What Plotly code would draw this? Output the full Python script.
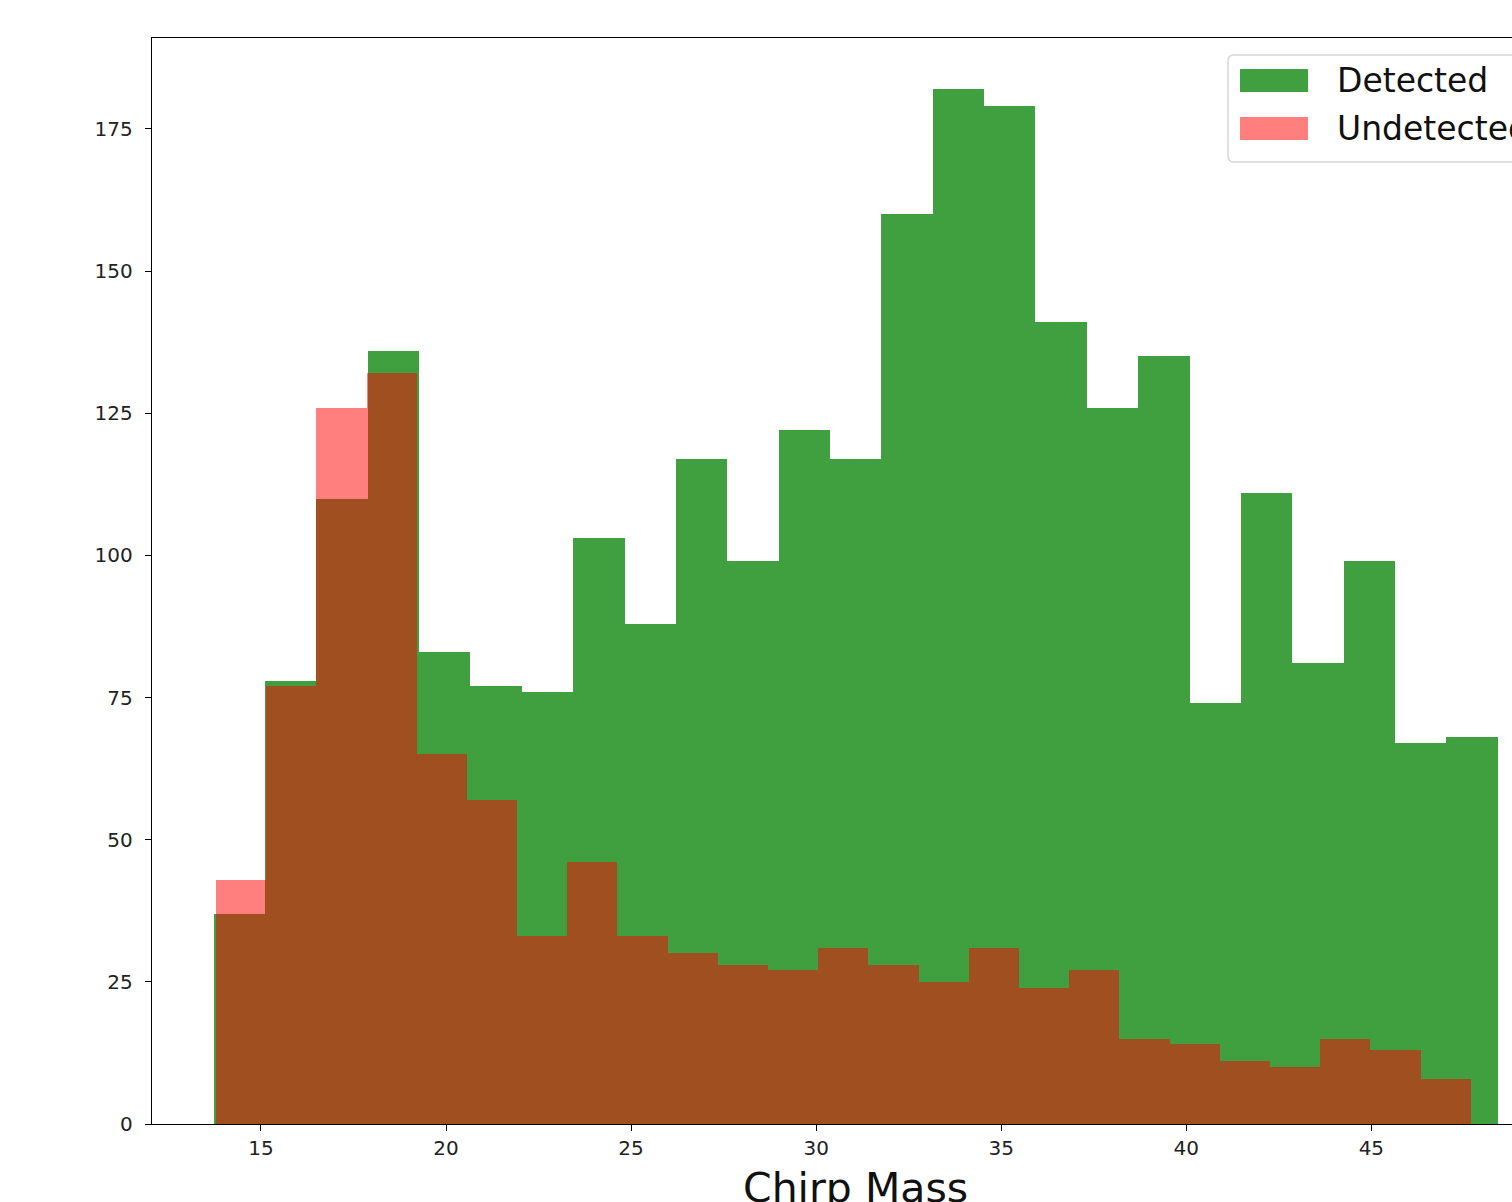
import numpy as np
import plotly.graph_objects as go

# ---- data ----
detected_counts = [37, 78, 110, 136, 83, 77, 76, 103, 88, 117, 99, 122, 117,
                   160, 182, 179, 141, 126, 135, 74, 111, 81, 99, 67, 68]
undetected_counts = [43, 77, 126, 132, 65, 57, 33, 46, 33, 30, 28, 27, 31,
                     28, 25, 31, 24, 27, 15, 14, 11, 10, 15, 13, 8]
detected_range = (13.72, 48.414)     # histogram bin range (25 bins)
undetected_range = (13.784, 47.685)  # histogram bin range (25 bins)
x_ticks = [15, 20, 25, 30, 35, 40, 45]
y_ticks = [0, 25, 50, 75, 100, 125, 150, 175]
series_names = ["Detected", "Undetected"]
x_label = "Chirp Mass"

GREEN = "rgba(0,128,0,0.75)"
RED = "rgba(255,0,0,0.5)"
FONT = "DejaVu Sans"


def bins(rng, n):
    edges = np.linspace(rng[0], rng[1], n + 1)
    return (edges[:-1] + edges[1:]) / 2, edges[1] - edges[0]


gx, gw = bins(detected_range, len(detected_counts))
rx, rw = bins(undetected_range, len(undetected_counts))

fig = go.Figure()
fig.add_trace(go.Bar(x=gx, y=detected_counts, width=gw, name=series_names[0],
                     marker=dict(color=GREEN, line=dict(width=0)), showlegend=False))
fig.add_trace(go.Bar(x=rx, y=undetected_counts, width=rw, name=series_names[1],
                     marker=dict(color=RED, line=dict(width=0)), showlegend=False))

W, H = 1512, 1202
L, T, B = 152, 38, 78
PW = W - L
PH = H - T - B


def px_x(p):
    return (p - L) / PW


def px_y(p):
    return (H - B - p) / PH


fig.update_layout(
    width=W, height=H,
    margin=dict(l=L, r=0, t=T, b=B, autoexpand=False),
    paper_bgcolor="white", plot_bgcolor="white",
    barmode="overlay", bargap=0,
    font=dict(family=FONT, color="#222222"),
    showlegend=False,
)
fig.update_xaxes(range=[12.056, 48.80], tickvals=x_ticks, ticks="outside", ticklen=6,
                 tickwidth=1.4, tickcolor="black", showline=True, linecolor="black",
                 linewidth=1.4, mirror=True, showgrid=False, zeroline=False,
                 tickfont=dict(size=20, family=FONT, color="#222222"))
fig.update_yaxes(range=[0, 191.0], tickvals=y_ticks, ticks="outside", ticklen=6,
                 tickwidth=1.4, tickcolor="black", showline=True, linecolor="black",
                 linewidth=1.4, mirror=False, showgrid=False, zeroline=False,
                 tickfont=dict(size=20, family=FONT, color="#222222"),
                 ticklabelstandoff=8)

# x-axis label (centred on the original, wider axes)
fig.add_annotation(text=x_label, xref="paper", yref="paper", x=px_x(855), y=0,
                   xanchor="center", yanchor="middle", yshift=-64, showarrow=False,
                   font=dict(size=41, family=FONT, color="#111111"))

# legend box with swatches (rounded left corners)
bx0, bx1, by0, by1, r = 1228, 1530, 55, 162, 6
path = (f"M {px_x(bx1)},{px_y(by0)} L {px_x(bx0 + r)},{px_y(by0)} "
        f"Q {px_x(bx0)},{px_y(by0)} {px_x(bx0)},{px_y(by0 + r)} "
        f"L {px_x(bx0)},{px_y(by1 - r)} "
        f"Q {px_x(bx0)},{px_y(by1)} {px_x(bx0 + r)},{px_y(by1)} "
        f"L {px_x(bx1)},{px_y(by1)} Z")
fig.add_shape(type="path", xref="paper", yref="paper", path=path,
              line=dict(color="#d6d6d6", width=1.5), fillcolor="rgba(255,255,255,0.8)",
              layer="above")
for i, (name, col, top, bot) in enumerate([(series_names[0], GREEN, 69, 92),
                                            (series_names[1], RED, 117, 140)]):
    fig.add_shape(type="rect", xref="paper", yref="paper", x0=px_x(1240), x1=px_x(1308),
                  y0=px_y(bot), y1=px_y(top), line=dict(width=0), fillcolor=col,
                  layer="above")
    fig.add_annotation(text=name, xref="paper", yref="paper", x=px_x(1335),
                       y=px_y((top + bot) / 2), xanchor="left", yanchor="middle",
                       showarrow=False, font=dict(size=33, family=FONT, color="#111111"))

fig.write_html("out.html")
